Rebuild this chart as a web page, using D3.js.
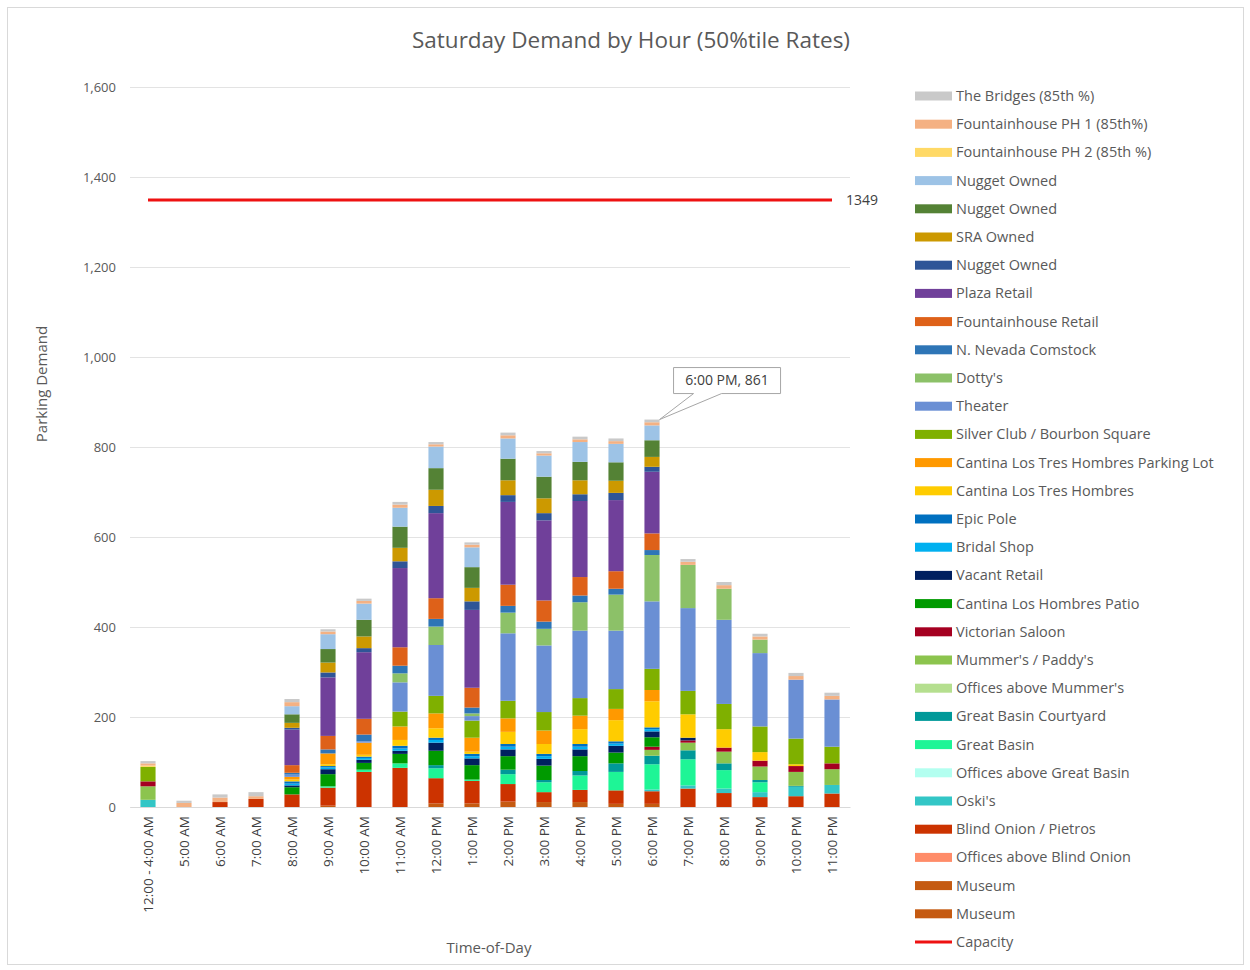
<!DOCTYPE html>
<html>
<head>
<meta charset="utf-8">
<style>
  body { margin: 0; background: #fff; }
  svg text { font-family: "Open Sans", "Noto Sans", sans-serif; fill: #595959; }
</style>
</head>
<body>
<svg width="1250" height="970"></svg>
<script src="https://d3js.org/d3.v7.min.js"></script>
<script>
// ---- data ----
var hours = ["12:00 - 4:00 AM", "5:00 AM", "6:00 AM", "7:00 AM", "8:00 AM", "9:00 AM", "10:00 AM",
             "11:00 AM", "12:00 PM", "1:00 PM", "2:00 PM", "3:00 PM", "4:00 PM", "5:00 PM", "6:00 PM",
             "7:00 PM", "8:00 PM", "9:00 PM", "10:00 PM", "11:00 PM"];

// stacked bottom -> top
var museumA          = [0,0,0,0,0,3,0,0,8,8,12,11,11,7,7,0,0,0,0,0];
var museumB          = [0,0,0,0,0,0,0,0,0,0,0,0,0,0,0,0,0,0,0,0];
var officesBlind     = [0,0,0,0,0,0,0,0,0,0,0,0,0,0,0,0,0,0,0,0];
var blindOnion       = [0,0,11,18,28,40,78,87,56,50,39,22,27,30,28,41,31,22,24,30];
var oskis            = [16,0,0,0,0,0,0,0,0,0,0,0,0,0,4,7,10,11,21,19];
var officesBasin     = [0,0,0,0,0,0,0,0,0,0,0,0,0,0,0,0,0,0,0,0];
var greatBasin       = [0,0,0,0,0,3,5,10,22,3,22,22,32,41,56,58,41,22,0,0];
var basinCourtyard   = [0,0,0,0,0,0,0,0,7,0,10,5,10,19,19,20,15,5,2,0];
var officesMummers   = [0,0,0,0,0,0,0,0,0,0,0,0,0,0,0,0,0,0,0,0];
var mummers          = [30,0,0,0,0,0,0,0,0,0,0,0,0,0,13,17,26,30,31,35];
var victorian        = [11,0,0,0,0,0,0,0,0,0,0,0,0,0,7,5,9,13,13,13];
var cantinaPatio     = [0,0,0,0,16,27,15,21,32,32,30,32,33,24,21,0,0,0,0,0];
var vacantRetail     = [0,0,0,0,4,11,7,7,18,15,15,15,15,15,13,6,0,0,0,0];
var bridalShop       = [0,0,0,0,4,4,4,5,6,5,6,6,6,5,5,0,0,0,0,0];
var epicPole         = [0,0,0,0,5,3,3,6,5,5,6,5,6,5,4,0,0,0,0,0];
var cantinaTres      = [0,0,0,0,4,4,4,13,21,5,27,22,33,47,58,52,41,19,4,0];
var cantinaLot       = [0,0,0,0,6,24,27,30,33,31,30,30,30,25,25,0,0,0,0,0];
var silverClub       = [32,0,0,0,0,0,0,33,39,38,39,41,39,44,47,52,56,57,57,37];
var theater          = [0,0,0,0,5,0,3,65,113,10,150,148,150,130,150,184,187,163,131,105];
var dottys           = [0,0,0,0,0,0,0,20,41,6,46,37,63,80,103,96,69,30,0,0];
var nevadaComstock   = [0,0,0,0,4,9,15,17,17,13,15,16,15,13,11,0,0,0,0,0];
var fountainRetail   = [0,0,0,0,17,30,35,41,46,44,47,47,41,39,37,0,0,0,0,0];
var plazaRetail      = [0,0,0,0,79,130,148,176,189,173,184,178,169,158,137,0,0,0,0,0];
var nuggetDark       = [0,0,0,0,4,11,9,15,16,19,15,16,15,16,11,0,0,0,0,0];
var sraOwned         = [0,0,0,0,11,22,26,30,36,30,33,33,31,27,22,0,0,0,0,0];
var nuggetGreen      = [0,0,0,0,19,30,37,47,48,46,48,48,41,41,37,0,0,0,0,0];
var nuggetLight      = [0,0,0,0,18,33,36,42,48,44,45,47,44,41,33,0,0,0,0,0];
var fountainPH2      = [3,0,0,0,0,0,0,0,0,0,0,0,0,0,0,0,0,0,0,0];
var fountainPH1      = [5,9,10,6,9,6,6,7,5,6,7,5,6,6,7,7,8,7,8,8];
var bridges          = [5,5,7,9,7,5,5,6,5,5,6,5,6,6,6,6,7,6,7,7];

var capacity = 1349;
var yTicks = [0, 200, 400, 600, 800, 1000, 1200, 1400, 1600];

var seriesNames = ["Museum", "Museum", "Offices above Blind Onion", "Blind Onion / Pietros", "Oski's",
  "Offices above Great Basin", "Great Basin", "Great Basin Courtyard", "Offices above Mummer's",
  "Mummer's / Paddy's", "Victorian Saloon", "Cantina Los Hombres Patio", "Vacant Retail", "Bridal Shop",
  "Epic Pole", "Cantina Los Tres Hombres", "Cantina Los Tres Hombres Parking Lot",
  "Silver Club / Bourbon Square", "Theater", "Dotty's", "N. Nevada Comstock", "Fountainhouse Retail",
  "Plaza Retail", "Nugget Owned", "SRA Owned", "Nugget Owned", "Nugget Owned",
  "Fountainhouse PH 2 (85th %)", "Fountainhouse PH 1 (85th%)", "The Bridges (85th %)"];

var seriesValues = [museumA, museumB, officesBlind, blindOnion, oskis, officesBasin, greatBasin,
  basinCourtyard, officesMummers, mummers, victorian, cantinaPatio, vacantRetail, bridalShop, epicPole,
  cantinaTres, cantinaLot, silverClub, theater, dottys, nevadaComstock, fountainRetail, plazaRetail,
  nuggetDark, sraOwned, nuggetGreen, nuggetLight, fountainPH2, fountainPH1, bridges];

var seriesColors = ["#c55a11", "#c55a11", "#ff8c69", "#cc3300", "#33c6c6", "#b3fff0", "#1ef596",
  "#009999", "#b5df8f", "#8cc44e", "#a50021", "#009a00", "#002060", "#00b0f0", "#0070c0", "#ffcc00",
  "#ff9900", "#7fb000", "#6a8fd4", "#8cc168", "#2e75b6", "#de6119", "#70409a", "#2f5597", "#cc9900",
  "#548235", "#9dc3e6", "#ffd966", "#f4b183", "#c9c9c9"];

// ---- chart ----
var svg = d3.select("svg");

svg.append("rect")
    .attr("x", 7.5).attr("y", 7.5)
    .attr("width", 1236).attr("height", 957)
    .attr("fill", "#fff")
    .attr("stroke", "#d9d9d9");

var x = d3.scaleBand()
    .domain(hours)
    .range([130, 850])
    .paddingInner(0.58)
    .paddingOuter(0.29);

var y = d3.scaleLinear()
    .domain([0, 1600])
    .range([807, 87]);

// gridlines + y labels
var yAxis = svg.append("g")
    .attr("transform", "translate(130,0)")
    .call(d3.axisLeft(y).tickValues(yTicks).tickSize(-720).tickFormat(d3.format(",")).tickPadding(14));
yAxis.select(".domain").remove();
yAxis.selectAll(".tick line").attr("stroke", "#e3e3e3").attr("stroke-width", 1);
yAxis.selectAll(".tick text").style("font-size", "13px").style("fill", "#595959");

// stack
var table = hours.map(function(h, i) {
    var row = { hour: h };
    seriesValues.forEach(function(arr, k) { row["s" + k] = arr[i]; });
    return row;
});
var keys = seriesValues.map(function(d, k) { return "s" + k; });
var stacked = d3.stack().keys(keys)(table);

svg.append("g").selectAll("g")
    .data(stacked)
    .enter().append("g")
    .attr("fill", function(d, k) { return seriesColors[k]; })
    .selectAll("rect")
    .data(function(d) { return d; })
    .enter().append("rect")
    .attr("x", function(d) { return x(d.data.hour); })
    .attr("y", function(d) { return y(d[1]); })
    .attr("width", x.bandwidth())
    .attr("height", function(d) { return y(d[0]) - y(d[1]); });

// x axis
var xAxis = svg.append("g")
    .attr("transform", "translate(0,807)")
    .call(d3.axisBottom(x).tickSize(0).tickPadding(0));
xAxis.select(".domain").attr("stroke", "#d9d9d9");
xAxis.selectAll(".tick text")
    .attr("transform", "rotate(-90)")
    .attr("text-anchor", "end")
    .attr("x", -9)
    .attr("y", 0)
    .attr("dy", "0.35em")
    .style("font-size", "13.5px")
    .style("fill", "#404040");

// capacity line (from first to last bar centre)
var firstC = x(hours[0]) + x.bandwidth() / 2;
var lastC = x(hours[hours.length - 1]) + x.bandwidth() / 2;
svg.append("line")
    .attr("x1", firstC)
    .attr("x2", lastC)
    .attr("y1", y(capacity)).attr("y2", y(capacity))
    .attr("stroke", "#ee1111")
    .attr("stroke-width", 3);
svg.append("text")
    .attr("x", lastC + 14)
    .attr("y", y(capacity))
    .attr("dy", "0.35em")
    .style("font-size", "14px")
    .style("fill", "#404040")
    .text(capacity);

// callout on the peak
var peakIdx = 14;
var peakTotal = d3.sum(seriesValues, function(arr) { return arr[peakIdx]; });
var tipX = x(hours[peakIdx]) + x.bandwidth(), tipY = y(peakTotal);
var bx = tipX + 14, by = tipY - 52, bw = 107, bh = 26;
svg.append("path")
    .attr("d", "M" + bx + "," + by + "H" + (bx + bw) + "V" + (by + bh) + "H" + (bx + 48) +
               "L" + tipX + "," + tipY + "L" + (bx + 20) + "," + (by + bh) + "H" + bx + "Z")
    .attr("fill", "#fff")
    .attr("stroke", "#a6a6a6");
svg.append("text")
    .attr("x", bx + bw / 2)
    .attr("y", by + bh / 2)
    .attr("dy", "0.35em")
    .attr("text-anchor", "middle")
    .style("font-size", "14px")
    .style("fill", "#404040")
    .text(hours[peakIdx] + ", " + peakTotal);

// titles
svg.append("text")
    .attr("x", 631).attr("y", 40)
    .attr("dy", "0.35em")
    .attr("text-anchor", "middle")
    .style("font-size", "22.5px")
    .text("Saturday Demand by Hour (50%tile Rates)");

svg.append("text")
    .attr("x", 489).attr("y", 948)
    .attr("dy", "0.35em")
    .attr("text-anchor", "middle")
    .style("font-size", "15px")
    .text("Time-of-Day");

svg.append("text")
    .attr("transform", "translate(42,384) rotate(-90)")
    .attr("dy", "0.35em")
    .attr("text-anchor", "middle")
    .style("font-size", "15px")
    .text("Parking Demand");

// legend (top of stack first, then capacity)
var legendItems = seriesNames.map(function(n, k) { return { name: n, color: seriesColors[k], line: false }; }).reverse();
legendItems.push({ name: "Capacity", color: "#ee1111", line: true });

var legend = svg.append("g").selectAll("g")
    .data(legendItems)
    .enter().append("g")
    .attr("transform", function(d, i) { return "translate(915," + (96 + i * 28.2) + ")"; });

legend.append("rect")
    .attr("y", function(d) { return d.line ? -1.5 : -4.5; })
    .attr("width", 37)
    .attr("height", function(d) { return d.line ? 3 : 9; })
    .attr("fill", function(d) { return d.color; });

legend.append("text")
    .attr("x", 41)
    .attr("dy", "0.35em")
    .style("font-size", "14.5px")
    .text(function(d) { return d.name; });
</script>
</body>
</html>
